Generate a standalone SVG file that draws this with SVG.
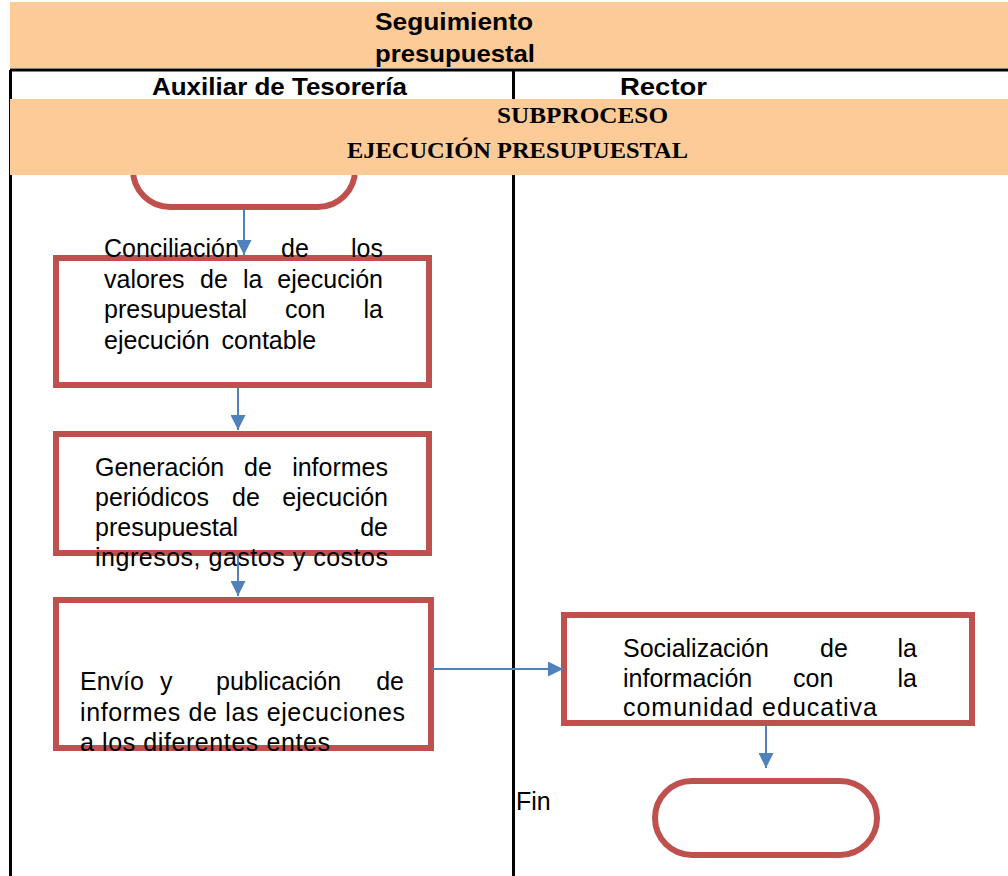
<svg xmlns="http://www.w3.org/2000/svg" width="1008" height="876" viewBox="0 0 1008 876">
<style>
.band{fill:#FCCB98}
.rule{stroke:#000;stroke-width:3;fill:none}
.box{fill:#fff;stroke:#C0504D;stroke-width:6}
.conn{stroke:#4F81BD;stroke-width:2;fill:none;marker-end:url(#ah)}
.hd{font-family:"Liberation Sans",Arial,sans-serif;font-weight:bold;font-size:24px;fill:#000}
.sub{font-family:"Liberation Serif","Times New Roman",serif;font-weight:bold;font-size:24px;fill:#000}
.t{font-family:"Liberation Sans",Arial,sans-serif;font-size:25px;fill:#000}
.e{text-anchor:end}
</style>
<defs>
<marker id="ah" markerUnits="userSpaceOnUse" markerWidth="15" markerHeight="15" refX="15" refY="7.5" orient="auto">
<path d="M0,0 L15,7.5 L0,15 z" fill="#4F81BD"/>
</marker>
</defs>
<rect width="1008" height="876" fill="#fff"/>

<g id="start">
<rect class="box" x="133" y="133" width="222" height="74" rx="37"/>
</g>

<g id="lanes">
<rect class="band" x="10" y="2" width="998" height="66"/>
<text class="hd" x="375" y="30" textLength="158" lengthAdjust="spacingAndGlyphs">Seguimiento</text>
<text class="hd" x="375" y="62" textLength="160" lengthAdjust="spacingAndGlyphs">presupuestal</text>
<line class="rule" x1="10" y1="70" x2="1008" y2="70" stroke-width="4"/>
<line class="rule" x1="10.5" y1="70" x2="10.5" y2="876"/>
<line class="rule" x1="513.5" y1="70" x2="513.5" y2="876"/>
<text class="hd" x="152" y="95" textLength="255" lengthAdjust="spacingAndGlyphs">Auxiliar de Tesorería</text>
<text class="hd" x="620" y="95" textLength="87" lengthAdjust="spacingAndGlyphs">Rector</text>
<rect class="band" x="10" y="99" width="998" height="76"/>
<text class="sub" x="497" y="123" textLength="171" lengthAdjust="spacingAndGlyphs">SUBPROCESO</text>
<text class="sub" x="347" y="158" textLength="341" lengthAdjust="spacingAndGlyphs">EJECUCIÓN PRESUPUESTAL</text>
</g>

<g id="n1">
<rect class="box" x="56" y="258" width="373" height="127"/>
<text class="t" y="257"><tspan x="104">Conciliación</tspan><tspan x="281">de</tspan><tspan x="383" class="e">los</tspan></text>
<text class="t" y="288"><tspan x="104">valores</tspan><tspan x="200">de</tspan><tspan x="243">la</tspan><tspan x="383" class="e">ejecución</tspan></text>
<text class="t" y="318"><tspan x="104">presupuestal</tspan><tspan x="285">con</tspan><tspan x="383" class="e">la</tspan></text>
<text class="t" y="349" x="104" word-spacing="5">ejecución contable</text>
</g>

<g id="n2">
<rect class="box" x="56" y="434" width="373" height="119"/>
<text class="t" y="476"><tspan x="95">Generación</tspan><tspan x="244">de</tspan><tspan x="388" class="e">informes</tspan></text>
<text class="t" y="506"><tspan x="95">periódicos</tspan><tspan x="232">de</tspan><tspan x="388" class="e">ejecución</tspan></text>
<text class="t" y="536"><tspan x="95">presupuestal</tspan><tspan x="388" class="e">de</tspan></text>
<text class="t" x="95" y="566" textLength="293" lengthAdjust="spacing">ingresos, gastos y costos</text>
</g>

<g id="n3">
<rect class="box" x="56" y="600" width="375" height="148"/>
<text class="t" y="690"><tspan x="80">Envío</tspan><tspan x="160">y</tspan><tspan x="216">publicación</tspan><tspan x="404" class="e">de</tspan></text>
<text class="t" x="80" y="721" textLength="325" lengthAdjust="spacing">informes de las ejecuciones</text>
<text class="t" x="80" y="751" textLength="250" lengthAdjust="spacing">a los diferentes entes</text>
</g>

<g id="n4">
<rect class="box" x="564" y="615" width="408" height="108"/>
<text class="t" y="657"><tspan x="623">Socialización</tspan><tspan x="820">de</tspan><tspan x="917" class="e">la</tspan></text>
<text class="t" y="687"><tspan x="623">información</tspan><tspan x="793">con</tspan><tspan x="917" class="e">la</tspan></text>
<text class="t" x="623" y="716" textLength="254" lengthAdjust="spacing">comunidad educativa</text>
</g>

<g id="end">
<rect class="box" x="655" y="781" width="222" height="74" rx="37"/>
<text class="t" x="516" y="810">Fin</text>
</g>

<g id="connectors">
<line class="conn" x1="244" y1="210" x2="244" y2="255"/>
<line class="conn" x1="238" y1="388" x2="238" y2="430"/>
<line class="conn" x1="238" y1="556" x2="238" y2="596"/>
<line class="conn" x1="432" y1="669" x2="563" y2="669"/>
<line class="conn" x1="766" y1="726" x2="766" y2="768"/>
</g>
</svg>
